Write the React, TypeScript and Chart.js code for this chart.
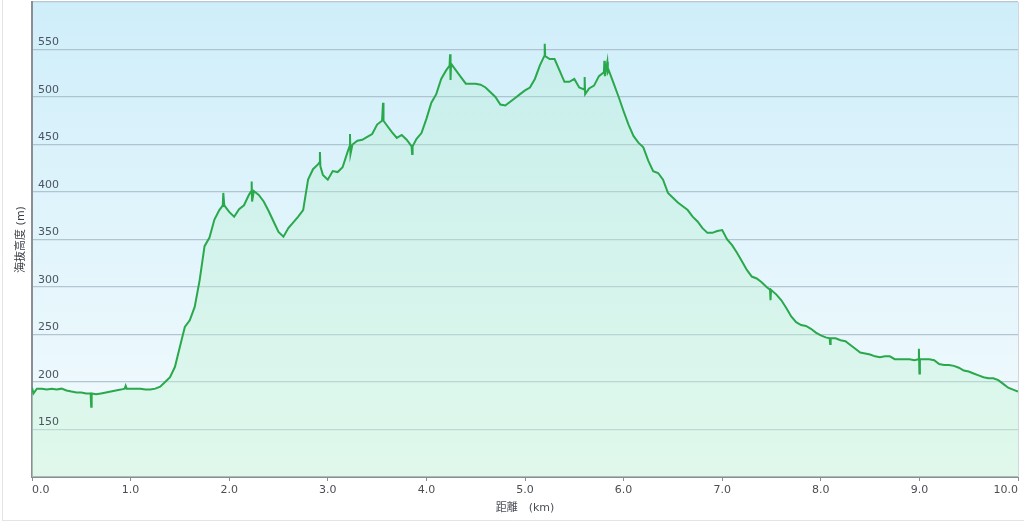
import React, { useEffect, useRef } from "react";
import { Chart, registerables } from "chart.js";

Chart.register(...registerables);

const distanceKm: number[] = [
  0.0, 0.015, 0.05, 0.1, 0.15, 0.2, 0.25, 0.3, 0.35, 0.4, 0.45, 0.5, 0.55, 0.595, 0.6, 0.605, 0.65, 0.7, 0.75, 0.8,
  0.85, 0.9, 0.94, 0.95, 0.96, 1.0, 1.05, 1.1, 1.15, 1.2, 1.25, 1.3, 1.35, 1.4, 1.45, 1.5, 1.55, 1.6, 1.65, 1.7,
  1.75, 1.8, 1.85, 1.9, 1.935, 1.94, 1.95, 2.0, 2.05, 2.1, 2.15, 2.2, 2.225, 2.228, 2.232, 2.25, 2.3, 2.35, 2.4, 2.45,
  2.5, 2.55, 2.6, 2.65, 2.7, 2.75, 2.8, 2.85, 2.9, 2.915, 2.92, 2.925, 2.95, 3.0, 3.05, 3.1, 3.15, 3.2, 3.22, 3.225,
  3.23, 3.25, 3.3, 3.35, 3.4, 3.45, 3.5, 3.55, 3.56, 3.565, 3.6, 3.65, 3.7, 3.75, 3.8, 3.85, 3.855, 3.86, 3.9, 3.95,
  4.0, 4.05, 4.1, 4.15, 4.2, 4.235, 4.24, 4.245, 4.25, 4.3, 4.35, 4.4, 4.45, 4.5, 4.55, 4.6, 4.65, 4.7, 4.75, 4.8,
  4.85, 4.9, 4.95, 5.0, 5.05, 5.1, 5.15, 5.195, 5.2, 5.205, 5.25, 5.3, 5.35, 5.4, 5.45, 5.5, 5.55, 5.6, 5.605, 5.61,
  5.65, 5.7, 5.75, 5.8, 5.805, 5.81, 5.835, 5.84, 5.85, 5.9, 5.95, 6.0, 6.05, 6.1, 6.15, 6.2, 6.25, 6.3, 6.35, 6.4,
  6.45, 6.5, 6.55, 6.6, 6.65, 6.7, 6.75, 6.8, 6.85, 6.9, 6.95, 7.0, 7.05, 7.1, 7.15, 7.2, 7.25, 7.3, 7.35, 7.4,
  7.45, 7.485, 7.49, 7.495, 7.5, 7.55, 7.6, 7.65, 7.7, 7.75, 7.8, 7.85, 7.9, 7.95, 8.0, 8.05, 8.09, 8.095, 8.1, 8.15,
  8.2, 8.25, 8.3, 8.35, 8.4, 8.45, 8.5, 8.55, 8.6, 8.65, 8.7, 8.75, 8.8, 8.85, 8.9, 8.95, 8.99, 8.995, 9.0, 9.005,
  9.05, 9.1, 9.15, 9.2, 9.25, 9.3, 9.35, 9.4, 9.45, 9.5, 9.55, 9.6, 9.65, 9.7, 9.75, 9.8, 9.85, 9.9, 9.95, 10.0,
];

const elevationM: number[] = [
  194, 188, 193, 193, 192, 193, 192, 193, 191, 190, 189, 189, 188, 188, 174, 188, 187, 188, 189, 190,
  191, 192, 193, 196, 193, 193, 193, 193, 192, 192, 193, 195, 200, 205, 216, 237, 258, 265, 279, 307,
  343, 352, 371, 381, 386, 399, 386, 379, 374, 382, 386, 397, 401, 411, 390, 401, 397, 390, 380, 369,
  358, 353, 362, 368, 374, 381, 413, 424, 429, 431, 442, 427, 418, 413, 422, 421, 426, 442, 448, 461,
  440, 450, 454, 455, 458, 461, 471, 475, 494, 475, 470, 463, 457, 460, 455, 448, 440, 448, 456, 462,
  477, 494, 503, 519, 528, 533, 545, 518, 535, 528, 521, 514, 514, 514, 513, 510, 505, 500, 492, 491,
  495, 499, 503, 507, 510, 519, 533, 543, 556, 543, 540, 540, 528, 516, 516, 519, 510, 508, 521, 503,
  509, 512, 522, 526, 538, 522, 537, 526, 528, 514, 500, 485, 471, 459, 452, 447, 433, 422, 420, 413,
  399, 394, 389, 385, 381, 374, 369, 362, 357, 357, 359, 360, 350, 344, 336, 327, 318, 311, 309, 305,
  300, 297, 286, 297, 297, 292, 286, 278, 269, 263, 260, 259, 256, 252, 249, 247, 246, 240, 246, 246,
  244, 243, 239, 235, 231, 230, 229, 227, 226, 227, 227, 224, 224, 224, 224, 223, 224, 235, 209, 224,
  224, 224, 223, 219, 218, 218, 217, 215, 212, 211, 209, 207, 205, 204, 204, 202, 198, 194, 192, 190,
];

const xTickStep = 1;
const yMin = 100;
const yMax = 600;
const yTickStep = 50;
const yLabelValues: number[] = [150, 200, 250, 300, 350, 400, 450, 500, 550];
const xTitle = "距離　(km)";
const yTitle = "海抜高度 (m)";

const FONT = '"DejaVu Sans", "Noto Sans CJK JP", sans-serif';

const backgroundPlugin = {
  id: "plotBg",
  beforeDraw(chart: any) {
    const { ctx, chartArea } = chart;
    if (!chartArea) return;
    const g = ctx.createLinearGradient(0, chartArea.top, 0, chartArea.bottom);
    g.addColorStop(0, "#cfeefa");
    g.addColorStop(1, "#f4fbfd");
    ctx.save();
    ctx.fillStyle = "#ffffff";
    ctx.fillRect(0, 0, chart.width, chart.height);
    ctx.fillStyle = g;
    ctx.fillRect(chartArea.left, chartArea.top, chartArea.right - chartArea.left, chartArea.bottom - chartArea.top);
    ctx.restore();
  },
  afterDatasetsDraw(chart: any) {
    const { ctx, chartArea } = chart;
    const yScale = chart.scales.y;
    ctx.save();
    ctx.fillStyle = "#4a5560";
    ctx.font = `11px ${FONT}`;
    ctx.textAlign = "left";
    ctx.textBaseline = "middle";
    yLabelValues.forEach((v) => {
      const py = yScale.getPixelForValue(v);
      ctx.fillText(String(v), chartArea.left + 6, py - 7);
    });
    ctx.restore();
  },
  afterDraw(chart: any) {
    const { ctx, chartArea } = chart;
    ctx.save();
    ctx.strokeStyle = "#cfd6dc";
    ctx.lineWidth = 1;
    ctx.beginPath();
    ctx.moveTo(chartArea.right + 0.5, chartArea.top);
    ctx.lineTo(chartArea.right + 0.5, chartArea.bottom);
    ctx.stroke();
    ctx.strokeStyle = "#e4e4e4";
    ctx.beginPath();
    ctx.moveTo(2.5, 0);
    ctx.lineTo(2.5, 521);
    ctx.moveTo(2.5, 520.5);
    ctx.lineTo(1024, 520.5);
    ctx.stroke();
    ctx.restore();
  },
};

export default function App() {
  const canvasRef = useRef<HTMLCanvasElement | null>(null);

  useEffect(() => {
    const canvas = canvasRef.current;
    if (!canvas) return;
    const points = distanceKm.map((d, i) => ({ x: d, y: elevationM[i] }));
    const chart = new Chart(canvas, {
      type: "line",
      data: {
        datasets: [
          {
            data: points,
            borderColor: "#2aa84c",
            borderWidth: 2,
            pointRadius: 0,
            tension: 0,
            fill: "origin",
            backgroundColor: (c: any) => {
              const area = c.chart.chartArea;
              if (!area) return "rgba(180,240,205,0.35)";
              const g = c.chart.ctx.createLinearGradient(0, area.top, 0, area.bottom);
              g.addColorStop(0, "rgba(170,235,200,0.25)");
              g.addColorStop(1, "rgba(200,245,215,0.45)");
              return g;
            },
          },
        ],
      },
      options: {
        responsive: false,
        animation: false,
        devicePixelRatio: 1,
        layout: { padding: { top: 2, right: 6, left: 0, bottom: 0 } },
        plugins: { legend: { display: false }, tooltip: { enabled: false } },
        scales: {
          x: {
            type: "linear",
            min: 0,
            max: 10,
            afterFit: (s: any) => {
              s.height = 46;
              s.paddingLeft = 0;
              s.paddingRight = 0;
            },
            ticks: {
              stepSize: xTickStep,
              align: "inner",
              padding: 3,
              color: "#4a4f55",
              font: { family: FONT, size: 11 },
              callback: (v: any) => Number(v).toFixed(1),
              maxRotation: 0,
            },
            grid: { drawOnChartArea: false, drawTicks: true, tickLength: 4, color: "#8a8f94", lineWidth: 1 },
            border: { display: true, color: "#8a8f94", width: 2 },
            title: {
              display: true,
              text: xTitle,
              color: "#4a4f55",
              font: { family: FONT, size: 11 },
              padding: { top: 0, bottom: 8 },
            },
          },
          y: {
            type: "linear",
            min: yMin,
            max: yMax,
            afterFit: (s: any) => {
              s.width = 32;
              s.paddingTop = 0;
              s.paddingBottom = 0;
            },
            ticks: {
              stepSize: yTickStep,
              display: false,
            },
            grid: { drawTicks: false, color: "rgba(160,180,195,0.75)", lineWidth: 1.2 },
            border: { display: true, color: "#8a8f94", width: 2 },
            title: {
              display: true,
              text: yTitle,
              color: "#3a3f45",
              font: { family: FONT, size: 11 },
              padding: { top: 15, bottom: 0 },
            },
          },
        },
      },
      plugins: [backgroundPlugin],
    } as any);
    return () => chart.destroy();
  }, []);

  return (
    <div style={{ position: "fixed", left: 0, top: 0, width: 1024, height: 523, background: "#fff" }}>
      <canvas ref={canvasRef} width={1024} height={523} style={{ display: "block", width: 1024, height: 523 }} />
    </div>
  );
}
